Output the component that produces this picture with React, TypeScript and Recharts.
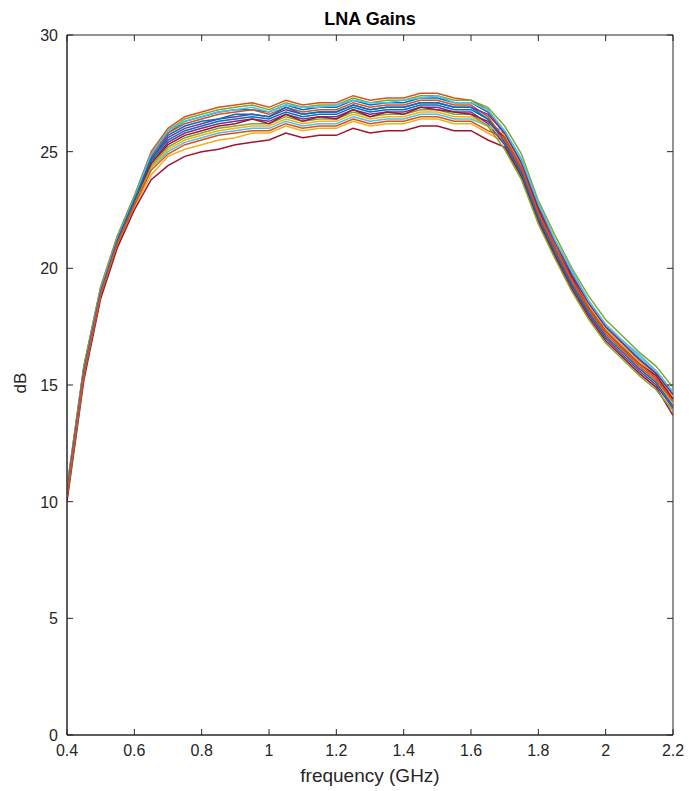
import { LineChart, Line, XAxis, YAxis, ReferenceArea } from "recharts";

const freqs = [
  0.4, 0.45, 0.5, 0.55, 0.6, 0.65, 0.7, 0.75, 0.8, 0.85, 0.9, 0.95, 1.0, 1.05, 1.1, 1.15, 1.2, 1.25, 1.3,
  1.35, 1.4, 1.45, 1.5, 1.55, 1.6, 1.65, 1.7, 1.75, 1.8, 1.85, 1.9, 1.95, 2.0, 2.05, 2.1, 2.15, 2.2,
];

const gain1 = [10.5, 15.7, 19.1, 21.3, 23.0, 24.9, 25.8, 26.3, 26.5, 26.7, 26.8, 26.8, 26.7, 27.0, 26.8, 26.9, 26.9, 27.2, 27.0, 27.1, 27.1, 27.3, 27.3, 27.1, 27.1, 26.7, 25.8, 24.5, 22.6, 21.1, 19.7, 18.5, 17.5, 16.8, 16.1, 15.5, 14.6];
const gain2 = [10.6, 15.8, 19.2, 21.4, 23.1, 25.0, 26.0, 26.5, 26.7, 26.9, 27.0, 27.1, 26.9, 27.2, 27.0, 27.1, 27.1, 27.4, 27.2, 27.3, 27.3, 27.5, 27.5, 27.3, 27.2, 26.8, 25.7, 24.4, 22.5, 21.0, 19.6, 18.4, 17.4, 16.7, 16.0, 15.4, 14.5];
const gain3 = [10.2, 15.4, 18.8, 21.0, 22.6, 24.0, 24.8, 25.1, 25.3, 25.5, 25.6, 25.8, 25.8, 26.1, 25.9, 26.0, 26.0, 26.3, 26.1, 26.2, 26.2, 26.4, 26.4, 26.2, 26.2, 25.8, 25.4, 24.1, 22.2, 20.7, 19.3, 18.1, 17.1, 16.4, 15.7, 15.1, 14.2];
const gain4 = [10.3, 15.5, 19.0, 21.2, 22.9, 24.5, 25.4, 25.8, 26.0, 26.2, 26.3, 26.4, 26.3, 26.6, 26.4, 26.5, 26.5, 26.8, 26.6, 26.7, 26.7, 26.9, 26.9, 26.7, 26.7, 26.2, 25.3, 24.0, 22.1, 20.6, 19.2, 18.0, 17.0, 16.3, 15.6, 15.0, 14.0];
const gain5 = [10.6, 15.8, 19.2, 21.4, 23.1, 24.9, 25.9, 26.4, 26.6, 26.8, 26.9, 27.0, 26.8, 27.1, 26.9, 27.0, 27.0, 27.3, 27.1, 27.2, 27.2, 27.4, 27.4, 27.2, 27.2, 26.9, 26.1, 24.9, 22.9, 21.4, 20.0, 18.8, 17.8, 17.1, 16.4, 15.8, 14.9];
const gain6 = [10.4, 15.6, 19.0, 21.2, 22.8, 24.3, 25.0, 25.4, 25.6, 25.8, 25.9, 26.0, 26.0, 26.3, 26.1, 26.2, 26.2, 26.5, 26.3, 26.4, 26.4, 26.6, 26.6, 26.4, 26.4, 26.1, 25.9, 24.6, 22.7, 21.2, 19.8, 18.6, 17.6, 16.9, 16.2, 15.6, 14.7];
const gain7 = [10.0, 15.2, 18.7, 20.9, 22.5, 23.8, 24.4, 24.8, 25.0, 25.1, 25.3, 25.4, 25.5, 25.8, 25.6, 25.7, 25.7, 26.0, 25.8, 25.9, 25.9, 26.1, 26.1, 25.9, 25.9, 25.5, 25.2, 23.9, 22.0, 20.5, 19.1, 17.9, 16.9, 16.2, 15.5, 14.9, 13.7];
const gain8 = [10.4, 15.6, 19.0, 21.2, 22.9, 24.6, 25.5, 25.9, 26.1, 26.3, 26.4, 26.5, 26.4, 26.7, 26.5, 26.6, 26.6, 26.9, 26.7, 26.8, 26.8, 27.0, 27.0, 26.8, 26.8, 26.4, 25.6, 24.3, 22.4, 20.9, 19.5, 18.3, 17.3, 16.6, 15.9, 15.3, 14.4];
const gain9 = [10.5, 15.7, 19.1, 21.3, 23.0, 24.8, 25.8, 26.2, 26.4, 26.6, 26.7, 26.8, 26.6, 26.9, 26.7, 26.8, 26.8, 27.1, 26.9, 27.0, 27.0, 27.2, 27.2, 27.0, 27.0, 26.5, 25.5, 24.2, 22.3, 20.8, 19.4, 18.2, 17.2, 16.5, 15.8, 15.2, 14.3];
const gain10 = [10.3, 15.5, 18.9, 21.1, 22.8, 24.3, 25.1, 25.5, 25.7, 25.9, 26.0, 26.1, 26.1, 26.4, 26.2, 26.3, 26.3, 26.6, 26.4, 26.5, 26.5, 26.7, 26.7, 26.5, 26.5, 26.1, 25.7, 24.4, 22.5, 21.0, 19.6, 18.4, 17.4, 16.7, 16.0, 15.4, 14.5];
const gain11 = [10.4, 15.6, 19.0, 21.2, 22.9, 24.7, 25.6, 26.0, 26.2, 26.4, 26.5, 26.6, 26.5, 26.8, 26.6, 26.7, 26.7, 27.0, 26.8, 26.9, 26.9, 27.1, 27.1, 26.9, 26.9, 26.6, 25.8, 24.5, 22.6, 21.1, 19.7, 18.5, 17.5, 16.8, 16.1, 15.5, 14.6];
const gain12 = [10.2, 15.4, 18.9, 21.1, 22.8, 24.4, 25.2, 25.6, 25.8, 26.0, 26.1, 26.2, 26.2, 26.5, 26.3, 26.4, 26.4, 26.7, 26.5, 26.6, 26.6, 26.8, 26.8, 26.6, 26.6, 26.1, 25.1, 23.8, 21.9, 20.4, 19.0, 17.8, 16.8, 16.1, 15.4, 14.8, 13.9];
const gain13 = [10.5, 15.7, 19.1, 21.3, 23.0, 24.9, 25.9, 26.3, 26.5, 26.7, 26.8, 26.9, 26.7, 27.0, 26.9, 26.9, 27.0, 27.2, 27.1, 27.1, 27.2, 27.3, 27.4, 27.1, 27.1, 26.8, 25.9, 24.7, 22.8, 21.2, 19.9, 18.6, 17.6, 16.9, 16.3, 15.6, 14.7];
const gain14 = [10.3, 15.5, 18.9, 21.2, 22.9, 24.5, 25.3, 25.7, 25.9, 26.1, 26.2, 26.4, 26.2, 26.6, 26.3, 26.5, 26.4, 26.8, 26.5, 26.7, 26.6, 26.9, 26.8, 26.7, 26.6, 26.3, 25.6, 24.3, 22.5, 20.9, 19.6, 18.3, 17.3, 16.6, 15.9, 15.4, 14.4];
const gain15 = [10.4, 15.6, 19.0, 21.2, 22.9, 24.7, 25.7, 26.1, 26.3, 26.4, 26.6, 26.6, 26.5, 26.9, 26.6, 26.7, 26.7, 27.0, 26.8, 26.9, 26.9, 27.1, 27.1, 26.9, 26.9, 26.4, 25.4, 24.1, 22.2, 20.7, 19.3, 18.1, 17.1, 16.4, 15.7, 15.1, 14.1];
const gain16 = [10.3, 15.5, 18.9, 21.1, 22.7, 24.2, 24.9, 25.3, 25.5, 25.7, 25.8, 25.9, 25.9, 26.2, 26.0, 26.1, 26.1, 26.4, 26.2, 26.3, 26.3, 26.5, 26.5, 26.3, 26.3, 25.9, 25.6, 24.3, 22.4, 20.9, 19.5, 18.3, 17.3, 16.6, 15.9, 15.3, 14.3];

const allGains = [
  gain1, gain2, gain3, gain4, gain5, gain6, gain7, gain8,
  gain9, gain10, gain11, gain12, gain13, gain14, gain15, gain16,
];

const xTicks = [0.4, 0.6, 0.8, 1, 1.2, 1.4, 1.6, 1.8, 2, 2.2];
const yTicks = [0, 5, 10, 15, 20, 25, 30];

// matlab default line order
const colors = ["#0072BD", "#D95319", "#EDB120", "#7E2F8E", "#77AC30", "#4DBEEE", "#A2142F"];

const rows = freqs.map((f, i) => {
  const row: Record<string, number> = { f };
  allGains.forEach((g, k) => (row["g" + k] = g[i]));
  return row;
});

const W = 689;
const H = 791;
const M = { top: 35, right: 16, bottom: 26, left: 22 };
const X_AXIS_H = 30;
const Y_AXIS_W = 45;
const PLOT_W = W - M.left - M.right - Y_AXIS_W;
const PLOT_H = H - M.top - M.bottom - X_AXIS_H;

const AX = "#262626";
const FONT = "'Liberation Sans', Arial, Helvetica, sans-serif";
const TL = 6;

/* eslint-disable @typescript-eslint/no-explicit-any */
// bottom tick + mirrored top tick (matlab box style, ticks point inward)
function BottomTick({ x, y, payload }: any) {
  const ay = y - 8;
  const top = ay - PLOT_H;
  return (
    <g>
      <line x1={x} x2={x} y1={ay} y2={ay - TL} stroke={AX} />
      <line x1={x} x2={x} y1={top} y2={top + TL} stroke={AX} />
      <text x={x} y={ay + 21} textAnchor="middle" fill={AX} fontSize={16} fontFamily={FONT}>
        {String(payload.value)}
      </text>
    </g>
  );
}

function LeftTick({ x, y, payload }: any) {
  const ax = x + 8;
  const right = ax + PLOT_W;
  return (
    <g>
      <line x1={ax} x2={ax + TL} y1={y} y2={y} stroke={AX} />
      <line x1={right} x2={right - TL} y1={y} y2={y} stroke={AX} />
      <text x={x - 1} y={y + 6} textAnchor="end" fill={AX} fontSize={16} fontFamily={FONT}>
        {String(payload.value)}
      </text>
    </g>
  );
}

export default function App() {
  return (
    <div style={{ position: "relative", width: W, height: H, background: "#fff", fontFamily: FONT }}>
      <style>{"body{margin:0}"}</style>
      <LineChart width={W} height={H} data={rows} margin={M}>
        <XAxis
          dataKey="f"
          type="number"
          domain={[0.4, 2.2]}
          ticks={xTicks}
          height={X_AXIS_H}
          tickSize={0}
          tickMargin={8}
          tick={<BottomTick />}
          stroke={AX}
          allowDataOverflow
        />
        <YAxis
          type="number"
          domain={[0, 30]}
          ticks={yTicks}
          width={Y_AXIS_W}
          tickSize={0}
          tickMargin={8}
          tick={<LeftTick />}
          stroke={AX}
          allowDataOverflow
        />
        <ReferenceArea x1={0.4} x2={2.2} y1={0} y2={30} fill="none" stroke={AX} strokeWidth={1} ifOverflow="visible" />
        {allGains.map((_, k) => (
          <Line
            key={k}
            dataKey={"g" + k}
            type="linear"
            stroke={colors[k % colors.length]}
            strokeWidth={1.5}
            dot={false}
            isAnimationActive={false}
          />
        ))}
      </LineChart>
      <div style={{ position: "absolute", left: 0, width: 740, top: 9, textAlign: "center", fontSize: 18, fontWeight: "bold", color: "#000" }}>
        LNA Gains
      </div>
      <div style={{ position: "absolute", left: 0, width: 740, top: 765, textAlign: "center", fontSize: 19, color: AX }}>
        frequency (GHz)
      </div>
      <div
        style={{
          position: "absolute",
          left: 21,
          top: 383,
          fontSize: 17,
          color: AX,
          transform: "translate(-50%, -50%) rotate(-90deg)",
          whiteSpace: "nowrap",
        }}
      >
        dB
      </div>
    </div>
  );
}
